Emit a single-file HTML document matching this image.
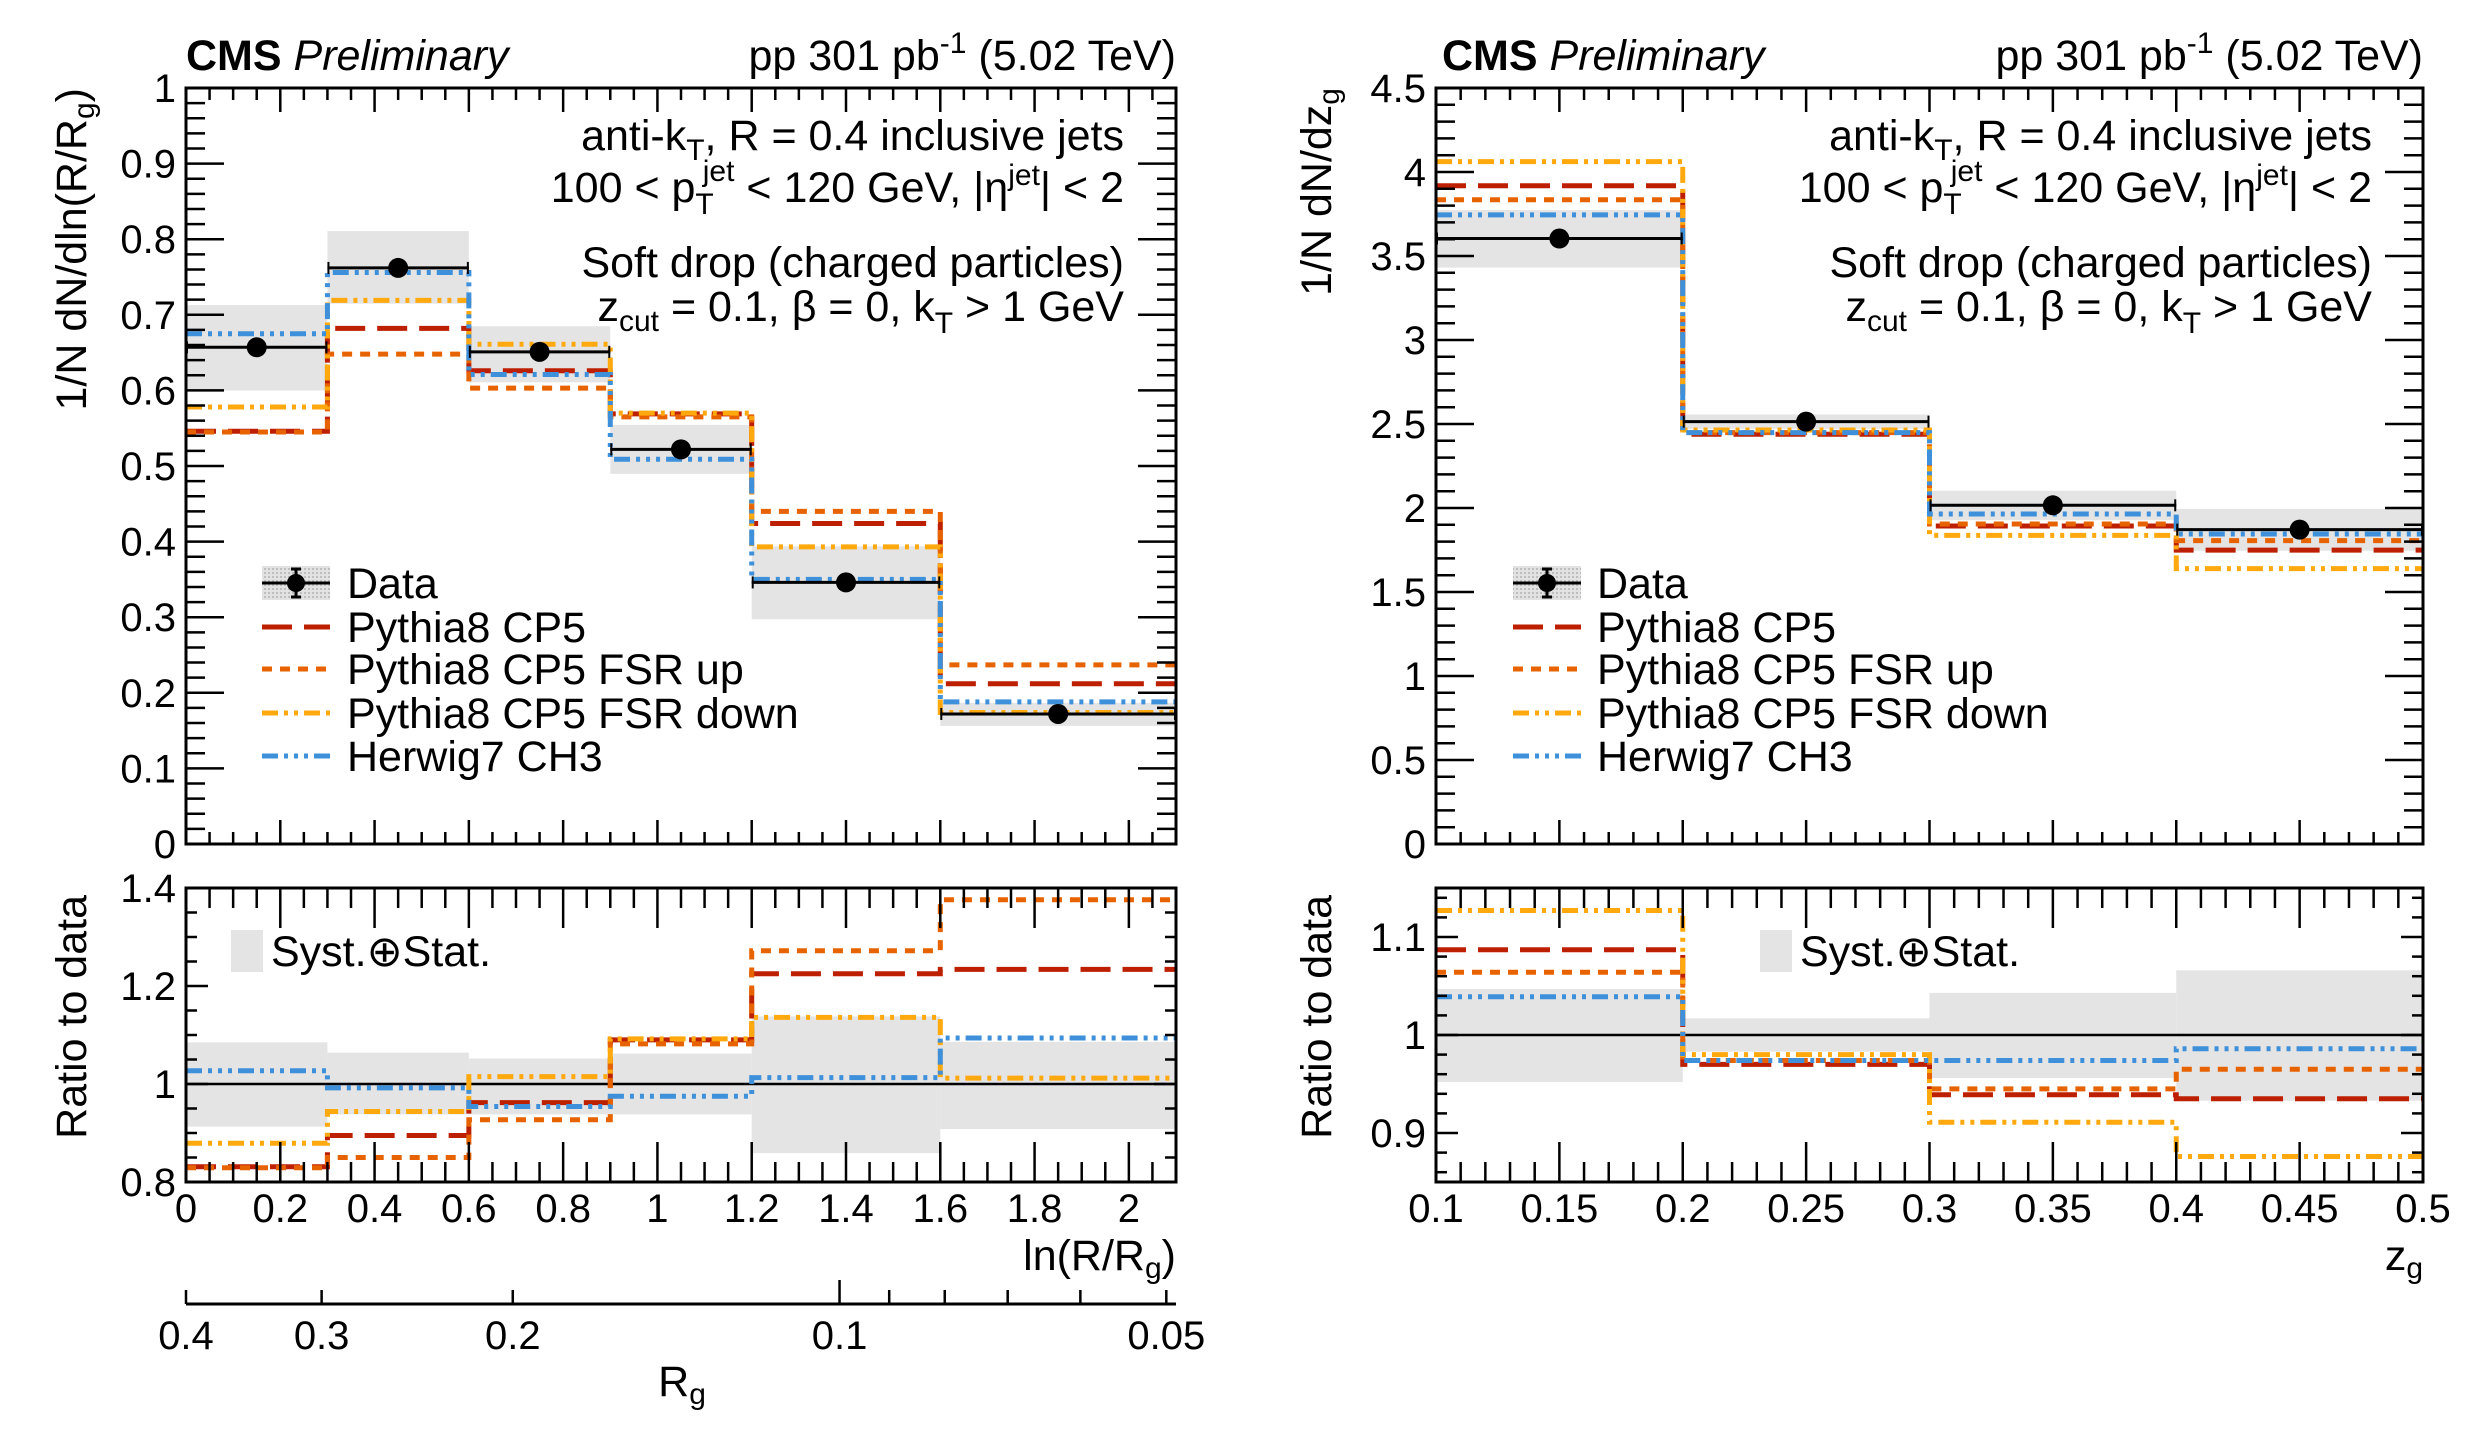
<!DOCTYPE html>
<html><head><meta charset="utf-8"><style>
body{margin:0;background:#fff;}
svg{display:block;font-family:"Liberation Sans",sans-serif;}
</style></head><body>
<svg id="c" width="2485" height="1442" viewBox="0 0 2485 1442" xmlns="http://www.w3.org/2000/svg">
<defs>
<pattern id="hatch" width="4" height="4" patternUnits="userSpaceOnUse"><rect width="4" height="4" fill="#e2e2e2"/><rect width="2" height="2" fill="#bdbdbd"/></pattern>
<clipPath id="clipLT"><rect x="186" y="88" width="990" height="756"/></clipPath>
<clipPath id="clipLR"><rect x="186" y="888" width="990" height="294"/></clipPath>
<clipPath id="clipRT"><rect x="1436" y="88" width="987" height="756"/></clipPath>
<clipPath id="clipRR"><rect x="1436" y="888" width="987" height="294"/></clipPath>
</defs>
<g font-size="43" fill="#000">
<text x="186" y="70"><tspan font-weight="bold">CMS</tspan> <tspan font-style="italic">Preliminary</tspan></text>
<text x="1176" y="70" text-anchor="end">pp 301 pb<tspan font-size="30" dy="-17">-1</tspan><tspan dy="17"> (5.02 TeV)</tspan></text>
<text x="1442" y="70"><tspan font-weight="bold">CMS</tspan> <tspan font-style="italic">Preliminary</tspan></text>
<text x="2423" y="70" text-anchor="end">pp 301 pb<tspan font-size="30" dy="-17">-1</tspan><tspan dy="17"> (5.02 TeV)</tspan></text>

<g>
<text x="1124" y="150" text-anchor="end">anti-k<tspan font-size="30" dy="10">T</tspan><tspan dy="-10">, R = 0.4 inclusive jets</tspan></text>
<text x="1124" y="202" text-anchor="end">100 &lt; p<tspan font-size="30" dy="12">T</tspan><tspan font-size="30" dx="-11" dy="-33">jet</tspan><tspan dy="21"> &lt; 120 GeV, |η</tspan><tspan font-size="30" dy="-17">jet</tspan><tspan dy="17">| &lt; 2</tspan></text>
<text x="1124" y="277" text-anchor="end">Soft drop (charged particles)</text>
<text x="1124" y="321" text-anchor="end">z<tspan font-size="30" dy="10">cut</tspan><tspan dy="-10"> = 0.1, β = 0, k</tspan><tspan font-size="30" dy="12">T</tspan><tspan dy="-12"> &gt; 1 GeV</tspan></text>
</g>
<g>
<text x="2372" y="150" text-anchor="end">anti-k<tspan font-size="30" dy="10">T</tspan><tspan dy="-10">, R = 0.4 inclusive jets</tspan></text>
<text x="2372" y="202" text-anchor="end">100 &lt; p<tspan font-size="30" dy="12">T</tspan><tspan font-size="30" dx="-11" dy="-33">jet</tspan><tspan dy="21"> &lt; 120 GeV, |η</tspan><tspan font-size="30" dy="-17">jet</tspan><tspan dy="17">| &lt; 2</tspan></text>
<text x="2372" y="277" text-anchor="end">Soft drop (charged particles)</text>
<text x="2372" y="321" text-anchor="end">z<tspan font-size="30" dy="10">cut</tspan><tspan dy="-10"> = 0.1, β = 0, k</tspan><tspan font-size="30" dy="12">T</tspan><tspan dy="-12"> &gt; 1 GeV</tspan></text>
</g>

<text transform="translate(86,88) rotate(-90)" text-anchor="end">1/N dN/dln(R/R<tspan font-size="30" dy="8">g</tspan><tspan dy="-8">)</tspan></text>
<text transform="translate(86,895) rotate(-90)" text-anchor="end">Ratio to data</text>
<text transform="translate(1331,88) rotate(-90)" text-anchor="end">1/N dN/dz<tspan font-size="30" dy="8">g</tspan></text>
<text transform="translate(1331,895) rotate(-90)" text-anchor="end">Ratio to data</text>

<text x="1176" y="1270" text-anchor="end">ln(R/R<tspan font-size="30" dy="8">g</tspan><tspan dy="-8">)</tspan></text>
<text x="2423" y="1270" text-anchor="end">z<tspan font-size="30" dy="8">g</tspan></text>
<text x="682" y="1396" text-anchor="middle">R<tspan font-size="30" dy="8">g</tspan></text>
</g>
<g id="plots"></g>
</svg>
<script>
// ---------- left panel data: ln(R/Rg) ----------
const lnEdges = [0, 0.3, 0.6, 0.9, 1.2, 1.6, 2.1];
const lnData = [0.657, 0.762, 0.651, 0.522, 0.346, 0.172];
const lnStat = [0.006, 0.007, 0.006, 0.006, 0.007, 0.005];
const lnUncLo = [0.913, 0.938, 0.938, 0.938, 0.859, 0.908];
const lnUncHi = [1.085, 1.064, 1.052, 1.062, 1.138, 1.086];
const lnCP5 = [0.546, 0.682, 0.626, 0.569, 0.424, 0.212];
const lnFSRup = [0.545, 0.648, 0.603, 0.565, 0.440, 0.237];
const lnFSRdown = [0.578, 0.719, 0.661, 0.570, 0.393, 0.174];
const lnHerwig = [0.675, 0.756, 0.621, 0.509, 0.350, 0.188];
const lnCP5Ratio = [0.831, 0.895, 0.962, 1.090, 1.225, 1.234];
const lnFSRupRatio = [0.829, 0.850, 0.927, 1.082, 1.272, 1.376];
const lnFSRdownRatio = [0.879, 0.944, 1.015, 1.092, 1.136, 1.012];
const lnHerwigRatio = [1.027, 0.992, 0.954, 0.975, 1.013, 1.094];
const lnXTicks = [0, 0.2, 0.4, 0.6, 0.8, 1, 1.2, 1.4, 1.6, 1.8, 2];
const lnXTickLabels = ['0', '0.2', '0.4', '0.6', '0.8', '1', '1.2', '1.4', '1.6', '1.8', '2'];
const lnYTicks = [0, 0.1, 0.2, 0.3, 0.4, 0.5, 0.6, 0.7, 0.8, 0.9, 1];
const lnYTickLabels = ['0', '0.1', '0.2', '0.3', '0.4', '0.5', '0.6', '0.7', '0.8', '0.9', '1'];
const lnRatioTicks = [0.8, 1, 1.2, 1.4];
const lnRatioTickLabels = ['0.8', '1', '1.2', '1.4'];
const rgTicks = [0.4, 0.3, 0.2, 0.1, 0.05];
const rgTickLabels = ['0.4', '0.3', '0.2', '0.1', '0.05'];
const rgMinorTicks = [0.09, 0.08, 0.07, 0.06];

// ---------- right panel data: zg ----------
const zgEdges = [0.1, 0.2, 0.3, 0.4, 0.5];
const zgData = [3.604, 2.514, 2.016, 1.871];
const zgStat = [0.02, 0.02, 0.02, 0.02];
const zgUncLo = [0.952, 0.983, 0.956, 0.933];
const zgUncHi = [1.047, 1.017, 1.043, 1.066];
const zgCP5 = [3.918, 2.439, 1.893, 1.749];
const zgFSRup = [3.835, 2.449, 1.905, 1.806];
const zgFSRdown = [4.062, 2.464, 1.837, 1.639];
const zgHerwig = [3.745, 2.449, 1.964, 1.845];
const zgCP5Ratio = [1.087, 0.970, 0.939, 0.935];
const zgFSRupRatio = [1.064, 0.974, 0.945, 0.965];
const zgFSRdownRatio = [1.127, 0.980, 0.911, 0.876];
const zgHerwigRatio = [1.039, 0.974, 0.974, 0.986];
const zgXTicks = [0.1, 0.15, 0.2, 0.25, 0.3, 0.35, 0.4, 0.45, 0.5];
const zgXTickLabels = ['0.1', '0.15', '0.2', '0.25', '0.3', '0.35', '0.4', '0.45', '0.5'];
const zgYTicks = [0, 0.5, 1, 1.5, 2, 2.5, 3, 3.5, 4, 4.5];
const zgYTickLabels = ['0', '0.5', '1', '1.5', '2', '2.5', '3', '3.5', '4', '4.5'];
const zgRatioTicks = [0.9, 1, 1.1];
const zgRatioTickLabels = ['0.9', '1', '1.1'];

const legendLabels = ['Data', 'Pythia8 CP5', 'Pythia8 CP5 FSR up', 'Pythia8 CP5 FSR down', 'Herwig7 CH3'];

const NS = 'http://www.w3.org/2000/svg';
const root = document.getElementById('plots');
function mk(tag, attrs, parent) {
  const e = document.createElementNS(NS, tag);
  for (const k in attrs) e.setAttribute(k, attrs[k]);
  (parent || root).appendChild(e);
  return e;
}
function lin(d0, d1, r0, r1) { return v => r0 + (v - d0) / (d1 - d0) * (r1 - r0); }

const styles = {
  cp5: {color: '#bd1f01', dash: '30 12'},
  up: {color: '#e76300', dash: '10 8'},
  down: {color: '#ffa90e', dash: '16 6 4 6 4 6'},
  herwig: {color: '#3f90da', dash: '16 6 4 6 4 6 4 6'}
};

function stepPath(edges, vals, X, Y) {
  let d = 'M' + X(edges[0]) + ',' + Y(vals[0]);
  for (let i = 0; i < vals.length; i++) {
    d += ' H' + X(edges[i + 1]);
    if (i + 1 < vals.length) d += ' V' + Y(vals[i + 1]);
  }
  return d;
}

function drawFrame(g, x0, x1, y0, y1) {
  const r = mk('rect', {x: x0, y: y0, width: x1 - x0, height: y1 - y0, fill: 'none', stroke: '#000', 'stroke-width': 3}, g);
  
  
}

function axisTicks(g, cfg) {
  const X = cfg.X, Y = cfg.Y;
  const xs = cfg.xMajor;
  const xstep = xs[1] - xs[0];
  const xminorStep = xstep / cfg.xNMinor;
  for (let v = cfg.xMin; v <= cfg.xMax + 1e-9; v += xminorStep) {
    const isMajor = Math.abs(Math.round((v - xs[0]) / xstep) * xstep - (v - xs[0])) < 1e-6;
    const L = isMajor ? cfg.xMajLen : cfg.xMajLen / 2;
    const px = X(v);
    mk('line', {x1: px, x2: px, y1: cfg.y1, y2: cfg.y1 - L, stroke: '#000', 'stroke-width': 2.5}, g);
    mk('line', {x1: px, x2: px, y1: cfg.y0, y2: cfg.y0 + L, stroke: '#000', 'stroke-width': 2.5}, g);
  }
  const ys = cfg.yMajor;
  const ystep = ys[1] - ys[0];
  const yminorStep = ystep / cfg.yNMinor;
  const start = ys[0] - Math.floor((ys[0] - cfg.yMin) / yminorStep + 1e-6) * yminorStep;
  for (let v = start; v <= cfg.yMax + 1e-9; v += yminorStep) {
    const isMajor = Math.abs(Math.round((v - ys[0]) / ystep) * ystep - (v - ys[0])) < 1e-6;
    const L = isMajor ? cfg.yMajLen : cfg.yMajLen / 2;
    const py = Y(v);
    mk('line', {x1: cfg.x0, x2: cfg.x0 + L, y1: py, y2: py, stroke: '#000', 'stroke-width': 2.5}, g);
    mk('line', {x1: cfg.x1, x2: cfg.x1 - L, y1: py, y2: py, stroke: '#000', 'stroke-width': 2.5}, g);
  }
  cfg.yMajor.forEach((v, i) => {
    const t = mk('text', {x: cfg.x0 - 10, y: Y(v) + 14, 'text-anchor': 'end', 'font-size': 40}, g);
    t.textContent = cfg.yLabels[i];
    
    
  });
  if (cfg.xLabels) {
    cfg.xMajor.forEach((v, i) => {
      const t = mk('text', {x: X(v), y: 1222, 'text-anchor': 'middle', 'font-size': 40}, g);
      t.textContent = cfg.xLabels[i];
      
      
    });
  }
}

function drawLegend(g, sx, tx) {
  const ys = [583, 627, 669, 713, 756];
  const lg = mk('g', {}, g);
  
  
  mk('rect', {x: sx, y: ys[0] - 17, width: 68, height: 34, fill: 'url(#hatch)'}, lg);
  mk('line', {x1: sx, x2: sx + 68, y1: ys[0], y2: ys[0], stroke: '#000', 'stroke-width': 3}, lg);
  mk('line', {x1: sx + 34, x2: sx + 34, y1: ys[0] - 14, y2: ys[0] + 14, stroke: '#000', 'stroke-width': 3}, lg);
  mk('line', {x1: sx + 29, x2: sx + 39, y1: ys[0] - 14, y2: ys[0] - 14, stroke: '#000', 'stroke-width': 3}, lg);
  mk('line', {x1: sx + 29, x2: sx + 39, y1: ys[0] + 14, y2: ys[0] + 14, stroke: '#000', 'stroke-width': 3}, lg);
  mk('circle', {cx: sx + 34, cy: ys[0], r: 9, fill: '#000'}, lg);
  const keys = ['cp5', 'up', 'down', 'herwig'];
  keys.forEach((k, i) => {
    const l = mk('line', {x1: sx, x2: sx + 68, y1: ys[i + 1], y2: ys[i + 1], stroke: styles[k].color, 'stroke-width': 5, 'stroke-dasharray': styles[k].dash}, lg);
    
    
  });
  legendLabels.forEach((s, i) => {
    const t = mk('text', {x: tx, y: ys[i] + 15, 'font-size': 43}, lg);
    t.textContent = s;
    
    
  });
}

function drawPanel(p) {
  const g = mk('g', {});
  
  
  const X = lin(p.xMin, p.xMax, p.x0, p.x1);
  const Y = lin(0, p.yMax, 844, 88);
  const R = lin(p.rMin, p.rMax, 1182, 888);
  const gt = mk('g', {'clip-path': 'url(#' + p.clipT + ')'}, g);
  p.data.forEach((v, i) => {
    const b = mk('rect', {x: X(p.edges[i]), width: X(p.edges[i + 1]) - X(p.edges[i]), y: Y(v * p.hi[i]), height: Y(v * p.lo[i]) - Y(v * p.hi[i]), fill: '#e4e4e4'}, gt);
    
    
  });
  const models = [['cp5', p.cp5], ['up', p.up], ['down', p.down], ['herwig', p.herwig]];
  models.forEach(([k, arr]) => {
    const path = mk('path', {d: stepPath(p.edges, arr, X, Y), fill: 'none', stroke: styles[k].color, 'stroke-width': 5, 'stroke-dasharray': styles[k].dash}, gt);
    
    
  });
  p.data.forEach((v, i) => {
    const xa = X(p.edges[i]), xb = X(p.edges[i + 1]), xc = (xa + xb) / 2, yv = Y(v);
    mk('line', {x1: xa, x2: xb, y1: yv, y2: yv, stroke: '#000', 'stroke-width': 3}, gt);
    mk('line', {x1: xa + 1, x2: xa + 1, y1: yv - 6, y2: yv + 6, stroke: '#000', 'stroke-width': 2}, gt);
    mk('line', {x1: xb - 1, x2: xb - 1, y1: yv - 6, y2: yv + 6, stroke: '#000', 'stroke-width': 2}, gt);
    mk('line', {x1: xc, x2: xc, y1: Y(v + p.stat[i]), y2: Y(v - p.stat[i]), stroke: '#000', 'stroke-width': 3}, gt);
    const c = mk('circle', {cx: xc, cy: yv, r: 10, fill: '#000'}, gt);
    
    
  });
  drawFrame(g, p.x0, p.x1, 88, 844);
  axisTicks(g, {X: X, Y: Y, x0: p.x0, x1: p.x1, y0: 88, y1: 844, xMin: p.xMin, xMax: p.xMax, xMajor: p.xTicks, xNMinor: p.xNMinor, xMajLen: 24,
    yMin: 0, yMax: p.yMax, yMajor: p.yTicks, yNMinor: p.yNMinor, yMajLen: 38, yLabels: p.yLabels});
  drawLegend(g, p.legSx, p.legTx);

  const gr = mk('g', {'clip-path': 'url(#' + p.clipR + ')'}, g);
  p.data.forEach((v, i) => {
    const b = mk('rect', {x: X(p.edges[i]), width: X(p.edges[i + 1]) - X(p.edges[i]), y: R(p.hi[i]), height: R(p.lo[i]) - R(p.hi[i]), fill: '#e4e4e4'}, gr);
    
    
  });
  const one = mk('line', {x1: p.x0, x2: p.x1, y1: R(1), y2: R(1), stroke: '#000', 'stroke-width': 2.5}, gr);
  
  
  const rmodels = [['cp5', p.cp5R], ['up', p.upR], ['down', p.downR], ['herwig', p.herwigR]];
  rmodels.forEach(([k, arr]) => {
    const path = mk('path', {d: stepPath(p.edges, arr, X, R), fill: 'none', stroke: styles[k].color, 'stroke-width': 5, 'stroke-dasharray': styles[k].dash}, gr);
    
    
  });
  drawFrame(g, p.x0, p.x1, 888, 1182);
  axisTicks(g, {X: X, Y: R, x0: p.x0, x1: p.x1, y0: 888, y1: 1182, xMin: p.xMin, xMax: p.xMax, xMajor: p.xTicks, xNMinor: p.xNMinor, xMajLen: 40,
    yMin: p.rMin, yMax: p.rMax, yMajor: p.rTicks, yNMinor: p.rNMinor, yMajLen: 22, yLabels: p.rLabels, xLabels: p.xLabels});
  const sb = mk('rect', {x: p.sysX, y: 930, width: 32, height: 42, fill: '#e4e4e4'}, g);
  
  
  const st = mk('text', {x: p.sysX + 40, y: 966, 'font-size': 43}, g);
  st.textContent = 'Syst.⊕Stat.';
  
  
}

drawPanel({name: 'panel-ln-r-rg', x0: 186, x1: 1176, xMin: 0, xMax: 2.1, yMax: 1, rMin: 0.8, rMax: 1.4,
  clipT: 'clipLT', clipR: 'clipLR', edges: lnEdges, data: lnData, stat: lnStat, lo: lnUncLo, hi: lnUncHi,
  cp5: lnCP5, up: lnFSRup, down: lnFSRdown, herwig: lnHerwig,
  cp5R: lnCP5Ratio, upR: lnFSRupRatio, downR: lnFSRdownRatio, herwigR: lnHerwigRatio,
  xTicks: lnXTicks, xLabels: lnXTickLabels, xNMinor: 4, yTicks: lnYTicks, yLabels: lnYTickLabels, yNMinor: 5,
  rTicks: lnRatioTicks, rLabels: lnRatioTickLabels, rNMinor: 4, legSx: 262, legTx: 347, sysX: 231});

drawPanel({name: 'panel-zg', x0: 1436, x1: 2423, xMin: 0.1, xMax: 0.5, yMax: 4.5, rMin: 0.85, rMax: 1.15,
  clipT: 'clipRT', clipR: 'clipRR', edges: zgEdges, data: zgData, stat: zgStat, lo: zgUncLo, hi: zgUncHi,
  cp5: zgCP5, up: zgFSRup, down: zgFSRdown, herwig: zgHerwig,
  cp5R: zgCP5Ratio, upR: zgFSRupRatio, downR: zgFSRdownRatio, herwigR: zgHerwigRatio,
  xTicks: zgXTicks, xLabels: zgXTickLabels, xNMinor: 5, yTicks: zgYTicks, yLabels: zgYTickLabels, yNMinor: 5,
  rTicks: zgRatioTicks, rLabels: zgRatioTickLabels, rNMinor: 5, legSx: 1513, legTx: 1597, sysX: 1760});

(function () {
  const g = mk('g', {});
  
  
  const X = lin(0, 2.1, 186, 1176);
  const RgX = rg => X(Math.log(0.4 / rg));
  mk('line', {x1: 186, x2: 1176, y1: 1304, y2: 1304, stroke: '#000', 'stroke-width': 3}, g);
  rgTicks.forEach((v, i) => {
    const px = RgX(v);
    const L = v === 0.1 ? 24 : 14;
    mk('line', {x1: px, x2: px, y1: 1304, y2: 1304 - L, stroke: '#000', 'stroke-width': 2.5}, g);
    const t = mk('text', {x: px, y: 1349, 'text-anchor': 'middle', 'font-size': 40}, g);
    t.textContent = rgTickLabels[i];
    
    
  });
  rgMinorTicks.forEach(v => {
    const px = RgX(v);
    mk('line', {x1: px, x2: px, y1: 1304, y2: 1290, stroke: '#000', 'stroke-width': 2.5}, g);
  });
})();
</script>
</body></html>
